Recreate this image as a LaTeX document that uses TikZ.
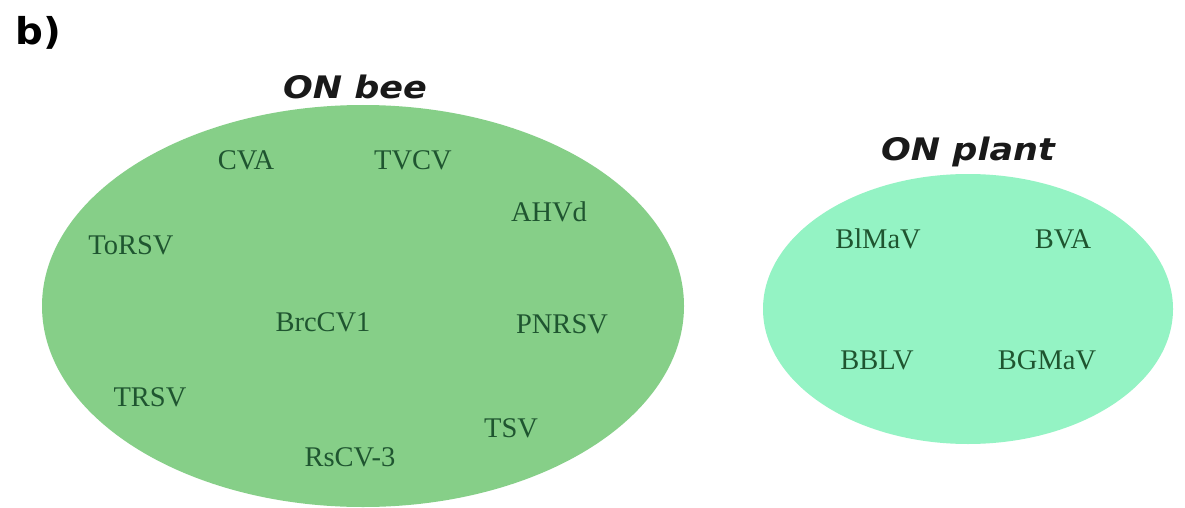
\documentclass[tikz,border=0pt]{standalone}
\usepackage{fontspec}
\setmainfont{Liberation Serif}
\newfontfamily\labelfont{DejaVu Sans}
\begin{document}
\begin{tikzpicture}[x=1pt,y=-1pt,
  virus/.style={font=\fontsize{28.5}{32}\selectfont, text=vtext, inner sep=0pt},
  settitle/.style={font=\labelfont\bfseries\itshape\fontsize{31}{34}\selectfont, text=black!90, inner sep=0pt, xscale=1.13}]
\definecolor{beegreen}{HTML}{86CF88}
\definecolor{plantgreen}{HTML}{94F3C4}
\definecolor{vtext}{HTML}{1F5530}
\useasboundingbox (0,0) rectangle (1185,508);
\fill[white] (0,0) rectangle (1185,508);
% panel tag
\node[font=\labelfont\bfseries\fontsize{37}{40}\selectfont, inner sep=0pt, xscale=1.05] (tag) at (38,33) {b)};
% the two sets
\fill[beegreen] (363,306) ellipse [x radius=321, y radius=201];
\fill[plantgreen] (968,309) ellipse [x radius=205, y radius=135];
\node[settitle] (beetitle) at (355,87) {ON bee};
\node[settitle] (planttitle) at (968,152) {ON plant};
% viruses found on bees
\node[virus] (cva) at (246,160) {CVA};
\node[virus] (tvcv) at (413,160) {TVCV};
\node[virus] (ahvd) at (549,212) {AHVd};
\node[virus] (torsv) at (131,245) {ToRSV};
\node[virus] (brccv) at (323,322) {BrcCV1};
\node[virus] (pnrsv) at (562,324) {PNRSV};
\node[virus] (trsv) at (150,397) {TRSV};
\node[virus] (tsv) at (511,428) {TSV};
\node[virus] (rscv) at (350,457) {RsCV-3};
% viruses found on plants
\node[virus] (blmav) at (878,239) {BlMaV};
\node[virus] (bva) at (1063,239) {BVA};
\node[virus] (bblv) at (877,360) {BBLV};
\node[virus] (bgmav) at (1047,360) {BGMaV};
\end{tikzpicture}
\end{document}
